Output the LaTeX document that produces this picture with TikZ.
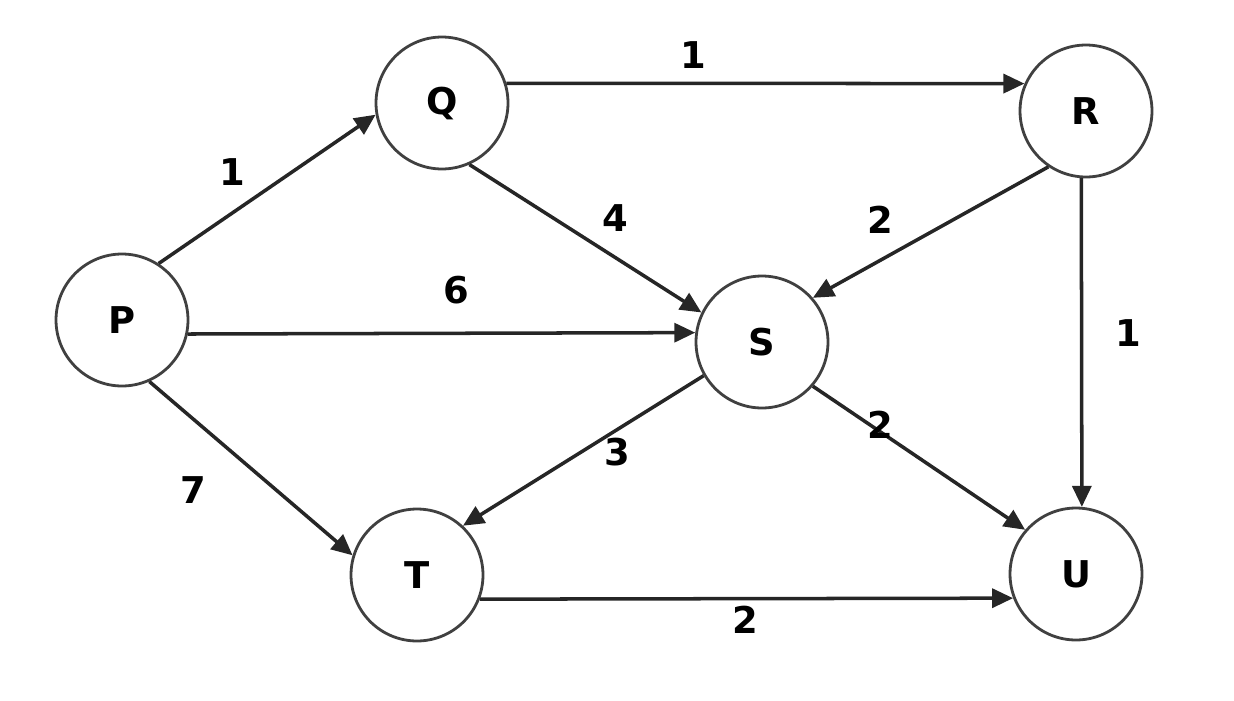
\documentclass[tikz,border=0pt]{standalone}
\usepackage{fontspec}
\setmainfont{DejaVu Sans}
\usetikzlibrary{arrows.meta}
\tikzset{
  vertex/.style={draw=black!75, circle, line width=1.6pt, minimum size=2.64cm, inner sep=0pt, font=\bfseries\fontsize{21}{24}\selectfont},
  arrow/.style={-{Triangle[length=4.2mm, width=3.8mm]}, line width=2pt, black!85},
  weight/.style={font=\bfseries\fontsize{21}{24}\selectfont, inner sep=1pt},
}

\begin{document}
\begin{tikzpicture}[x=0.02cm, y=-0.02cm]
    \useasboundingbox (0,0) rectangle (1234,700);
    \node[vertex] (P) at (122,320) {P};
    \node[vertex] (Q) at (442,103) {Q};
    \node[vertex] (R) at (1086,111) {R};
    \node[vertex] (S) at (762,342) {S};
    \node[vertex] (T) at (417,575) {T};
    \node[vertex] (U) at (1076,574) {U};
    \draw[arrow] (P.57) -- (Q.190);
    \draw[arrow] (Q.17) -- (R.156);
    \draw[arrow] (P.-12) -- (S.172);
    \draw[arrow] (Q.-66) -- (S.154);
    \draw[arrow] (R.236) -- (S.41);
    \draw[arrow] (R.-94) -- (U.85);
    \draw[arrow] (S.210) -- (T.47);
    \draw[arrow] (S.-41) -- (U.139);
    \draw[arrow] (P.-66) -- (T.163);
    \draw[arrow] (T.-21) -- (U.201);
    \node[weight] (wPQ) at (232,172) {1};
    \node[weight] (wQR) at (693,55) {1};
    \node[weight] (wPS) at (456,290) {6};
    \node[weight] (wQS) at (615,218) {4};
    \node[weight] (wRS) at (880,220) {2};
    \node[weight] (wRU) at (1128,333) {1};
    \node[weight] (wST) at (617,452) {3};
    \node[weight] (wSU) at (880,425) {2};
    \node[weight] (wPT) at (193,490) {7};
    \node[weight] (wTU) at (745,620) {2};
\end{tikzpicture}
\end{document}
